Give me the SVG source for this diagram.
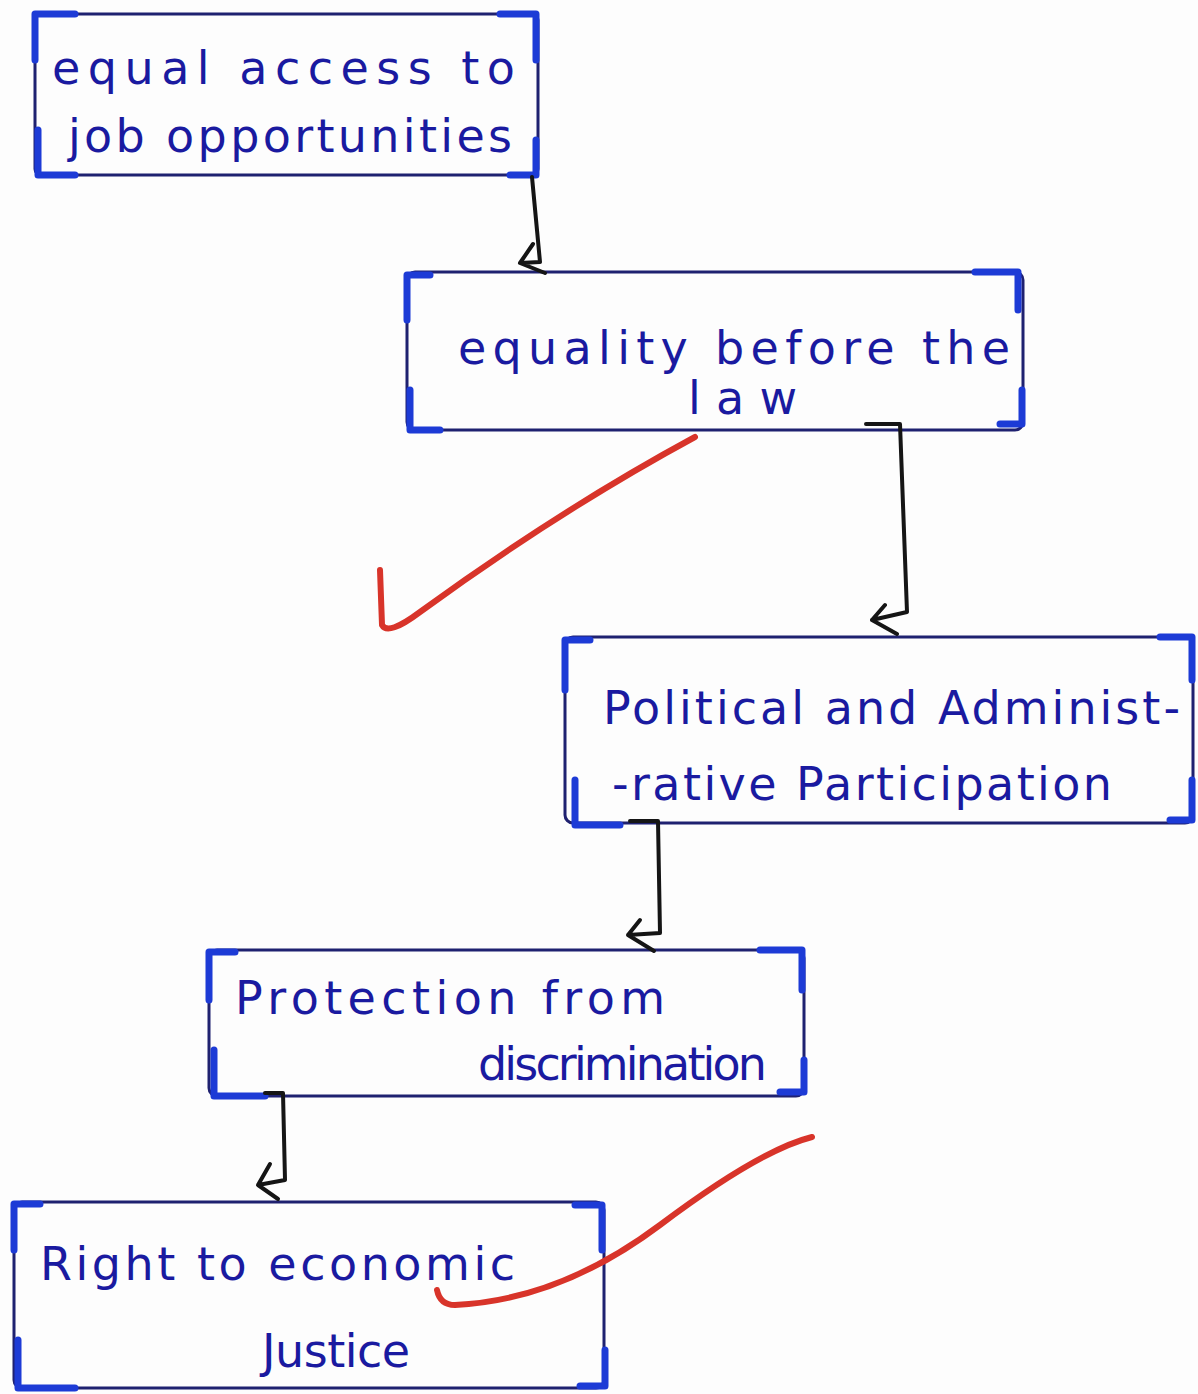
<svg xmlns="http://www.w3.org/2000/svg" width="1198" height="1394" viewBox="0 0 1198 1394">
<style>
.box{fill:none;stroke:#1f2170;stroke-width:3}
.corner{fill:none;stroke:#1d3bd6;stroke-width:7;stroke-linecap:round;stroke-linejoin:round}
.t{font-family:"DejaVu Sans",sans-serif;font-size:46px;fill:#1a1aa0}
.conn{fill:none;stroke:#151515;stroke-width:4;stroke-linecap:round;stroke-linejoin:round}
.tick{fill:none;stroke:#d8342a;stroke-width:6;stroke-linecap:round;stroke-linejoin:round}
</style>
<rect width="1198" height="1394" fill="#fdfdfd"/>
<g id="node1">
<rect class="box" x="35" y="14" width="503" height="161" rx="6"/>
<path class="corner" d="M35,60 V14 H75 M500,14 H536 V60 M536,140 V175 H510 M75,175 H38 V130"/>
<text class="t" x="52" y="84" textLength="463" lengthAdjust="spacing">equal access to</text>
<text class="t" x="68" y="152" textLength="444" lengthAdjust="spacing">job opportunities</text>
</g>
<g id="node2">
<rect class="box" x="407" y="272" width="616" height="158" rx="8"/>
<path class="corner" d="M407,320 V275 H430 M975,272 H1018 V310 M1022,390 V424 H1000 M440,430 H410 V390"/>
<text class="t" x="458" y="364" textLength="552" lengthAdjust="spacing">equality before the</text>
<text class="t" x="688" y="414" textLength="109" lengthAdjust="spacing">law</text>
</g>
<g id="node3">
<rect class="box" x="565" y="637" width="628" height="186" rx="8"/>
<path class="corner" d="M565,690 V640 H590 M1160,637 H1192 V680 M1192,780 V820 H1170 M620,825 H575 V780"/>
<text class="t" x="603" y="724" textLength="577" lengthAdjust="spacing">Political and Administ-</text>
<text class="t" x="612" y="800" textLength="500" lengthAdjust="spacing">-rative Participation</text>
</g>
<g id="node4">
<rect class="box" x="209" y="950" width="595" height="146" rx="8"/>
<path class="corner" d="M209,1000 V952 H235 M760,950 H802 V990 M804,1060 V1092 H780 M265,1096 H214 V1050"/>
<text class="t" x="235" y="1014" textLength="430" lengthAdjust="spacing">Protection from</text>
<text class="t" x="478" y="1080" textLength="289" lengthAdjust="spacing">discrimination</text>
</g>
<g id="node5">
<rect class="box" x="14" y="1202" width="590" height="186" rx="8"/>
<path class="corner" d="M14,1250 V1204 H40 M575,1205 H602 V1250 M605,1350 V1386 H580 M75,1388 H18 V1340"/>
<text class="t" x="40" y="1280" textLength="475" lengthAdjust="spacing">Right to economic</text>
<text class="t" x="262" y="1367" textLength="148" lengthAdjust="spacing">Justice</text>
</g>
<g id="connectors">
<path class="conn" d="M532,177 L540,262 L520,263 M533,244 L520,263 L545,273"/>
<path class="conn" d="M866,424 L900,424 L907,612 L872,620 M885,605 L872,620 L897,634"/>
<path class="conn" d="M630,821 L658,821 L660,933 L628,935 M640,920 L628,935 L654,951"/>
<path class="conn" d="M265,1093 L283,1093 L285,1180 L258,1185 M270,1164 L258,1185 L278,1199"/>
</g>
<g id="ticks">
<path class="tick" d="M380,570 L382,625 Q388,636 420,612 Q560,510 695,437"/>
<path class="tick" d="M812,1137 Q760,1150 660,1225 Q560,1300 455,1305 Q440,1305 437,1290"/>
</g>
</svg>
